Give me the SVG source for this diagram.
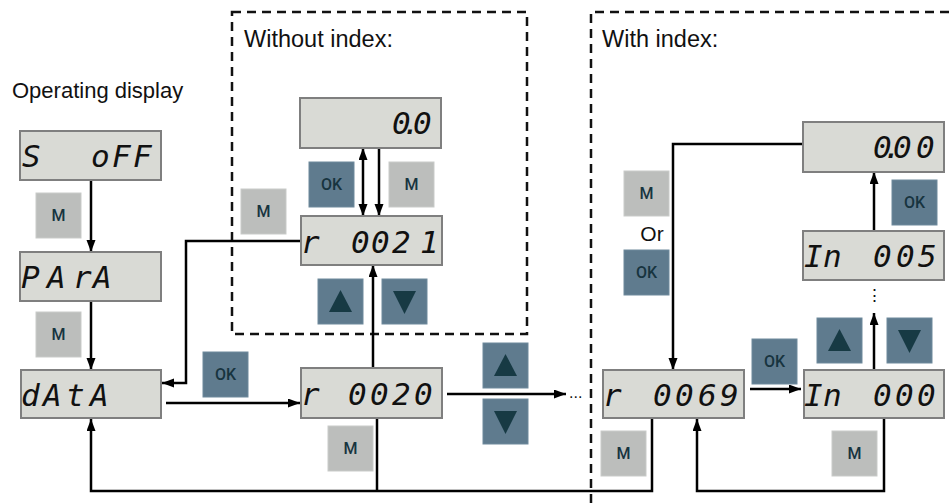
<svg xmlns="http://www.w3.org/2000/svg" width="950" height="503" viewBox="0 0 950 503">
<style>
.disp{fill:#d9dad5;stroke:#7f7f7f;stroke-width:2}
.seg{font-family:"DejaVu Sans Mono",monospace;font-style:oblique;font-size:31px;fill:#111}
.bm{fill:#bcbebc;stroke:#c9cbc9;stroke-width:1}
.bo{fill:#5f7b8e;stroke:#6f8a9c;stroke-width:1}
.bt{font-family:Roboto,"Liberation Sans",sans-serif;font-size:16px;font-weight:500;fill:#17343f;text-anchor:middle}
.tri{fill:#173a44}
.lbl{font-family:"Liberation Sans",Arial,sans-serif;font-size:23.5px;fill:#111}
.dash{fill:none;stroke:#111;stroke-width:2.5;stroke-dasharray:9 6}
.c{fill:none;stroke:#000;stroke-width:2.5}
</style>
<defs>
<marker id="ah" markerUnits="userSpaceOnUse" markerWidth="13" markerHeight="10" refX="12" refY="4.5" orient="auto-start-reverse">
<path d="M0,0 L12,4.5 L0,9 z" fill="#000"/>
</marker>
</defs>

<g id="frames">
<rect class="dash" x="232" y="12" width="295" height="322"/>
<path class="dash" d="M591,503 V12 H950"/>
<text class="lbl" x="244" y="47">Without index:</text>
<text class="lbl" x="602" y="47">With index:</text>
<text class="lbl" x="12" y="98" style="font-size:22px">Operating display</text>
</g>

<g id="connectors">
<path class="c" d="M91,180 V252" marker-end="url(#ah)"/>
<path class="c" d="M91,302 V370" marker-end="url(#ah)"/>
<path class="c" d="M166,403 H300" marker-end="url(#ah)"/>
<path class="c" d="M301,241 H186 V383 H162" marker-end="url(#ah)"/>
<path class="c" d="M377,418 V491"/>
<path class="c" d="M652,418 V491 H91 V419" marker-end="url(#ah)"/>
<path class="c" d="M373,368 V265" marker-end="url(#ah)"/>
<path class="c" d="M363,148 V216" marker-start="url(#ah)" marker-end="url(#ah)"/>
<path class="c" d="M379,148 V216" marker-end="url(#ah)"/>
<path class="c" d="M447,394 H566" marker-end="url(#ah)"/>
<path class="c" d="M803,144 H673 V370" marker-end="url(#ah)"/>
<path class="c" d="M750,389 H801" marker-end="url(#ah)"/>
<path class="c" d="M874,370 V313" marker-end="url(#ah)"/>
<path class="c" d="M874,231 V172" marker-end="url(#ah)"/>
<path class="c" d="M884,418 V491 H697 V419" marker-end="url(#ah)"/>
<text class="lbl" x="569" y="398" style="font-size:16px">...</text>
<text class="lbl" x="874" y="301" style="font-size:17px;text-anchor:middle">⋮</text>
</g>

<g id="d-soff"><rect class="disp" x="20" y="131" width="141" height="49"/><text class="seg" x="22 91 112 133" y="167">SoFF</text></g>
<g id="d-para"><rect class="disp" x="20" y="252" width="141" height="49"/><text class="seg" x="21 47 73 93" y="288">PArA</text></g>
<g id="d-data"><rect class="disp" x="21" y="370" width="140" height="48"/><text class="seg" x="21 43 66 90" y="406">dAtA</text></g>
<g id="d-00"><rect class="disp" x="300" y="98" width="141" height="50"/><text class="seg" x="392 402 413" y="134">0.0</text></g>
<g id="d-r0021"><rect class="disp" x="301" y="216" width="141" height="49"/><text class="seg" x="301 351 371 392 420" y="253">r0021</text></g>
<g id="d-r0020"><rect class="disp" x="301" y="368" width="141" height="50"/><text class="seg" x="301 348 370 392 414" y="405">r0020</text></g>
<g id="d-000"><rect class="disp" x="803" y="122" width="141" height="50"/><text class="seg" x="873 883 893 916" y="158">0.00</text></g>
<g id="d-in005"><rect class="disp" x="803" y="231" width="141" height="49"/><text class="seg" x="804 823 873 896 918" y="267">In005</text></g>
<g id="d-r0069"><rect class="disp" x="603" y="370" width="141" height="48"/><text class="seg" x="603 653 675 698 720" y="406">r0069</text></g>
<g id="d-in000"><rect class="disp" x="804" y="370" width="140" height="48"/><text class="seg" x="804 823 873 895 917" y="406">In000</text></g>

<g id="b-m1"><rect class="bm" x="36" y="193" width="45" height="45"/><text class="bt" x="58.5" y="221">M</text></g>
<g id="b-m2"><rect class="bm" x="36" y="312" width="45" height="45"/><text class="bt" x="58.5" y="340">M</text></g>
<g id="b-ok1"><rect class="bo" x="203" y="352" width="45" height="45"/><text class="bt" x="225.5" y="380">OK</text></g>
<g id="b-ok2"><rect class="bo" x="309" y="162" width="45" height="45"/><text class="bt" x="331.5" y="190">OK</text></g>
<g id="b-m3"><rect class="bm" x="389" y="162" width="45" height="45"/><text class="bt" x="411.5" y="190">M</text></g>
<g id="b-m4"><rect class="bm" x="241" y="189" width="45" height="45"/><text class="bt" x="263.5" y="217">M</text></g>
<g id="b-up1"><rect class="bo" x="318" y="279" width="45" height="45"/><path class="tri" d="M340.5,290 L352,312 L329,312 z"/></g>
<g id="b-dn1"><rect class="bo" x="382" y="279" width="45" height="45"/><path class="tri" d="M393,291 L416,291 L404.5,314 z"/></g>
<g id="b-m5"><rect class="bm" x="328" y="426" width="45" height="45"/><text class="bt" x="350.5" y="454">M</text></g>
<g id="b-up2"><rect class="bo" x="483" y="343" width="45" height="45"/><path class="tri" d="M505.5,354 L517,376 L494,376 z"/></g>
<g id="b-dn2"><rect class="bo" x="483" y="399" width="45" height="45"/><path class="tri" d="M494,411 L517,411 L505.5,434 z"/></g>
<g id="b-m6"><rect class="bm" x="624" y="171" width="45" height="45"/><text class="bt" x="646.5" y="199">M</text></g>
<text class="lbl" x="652" y="241" style="text-anchor:middle;font-size:21px">Or</text>
<g id="b-ok3"><rect class="bo" x="624" y="250" width="45" height="45"/><text class="bt" x="646.5" y="278">OK</text></g>
<g id="b-ok4"><rect class="bo" x="892" y="180" width="45" height="45"/><text class="bt" x="914.5" y="208">OK</text></g>
<g id="b-up3"><rect class="bo" x="817" y="318" width="45" height="45"/><path class="tri" d="M839.5,329 L851,351 L828,351 z"/></g>
<g id="b-dn3"><rect class="bo" x="887" y="318" width="45" height="45"/><path class="tri" d="M898,330 L921,330 L909.5,353 z"/></g>
<g id="b-ok5"><rect class="bo" x="752" y="339" width="45" height="45"/><text class="bt" x="774.5" y="367">OK</text></g>
<g id="b-m7"><rect class="bm" x="601" y="431" width="45" height="45"/><text class="bt" x="623.5" y="459">M</text></g>
<g id="b-m8"><rect class="bm" x="832" y="431" width="45" height="45"/><text class="bt" x="854.5" y="459">M</text></g>
</svg>
